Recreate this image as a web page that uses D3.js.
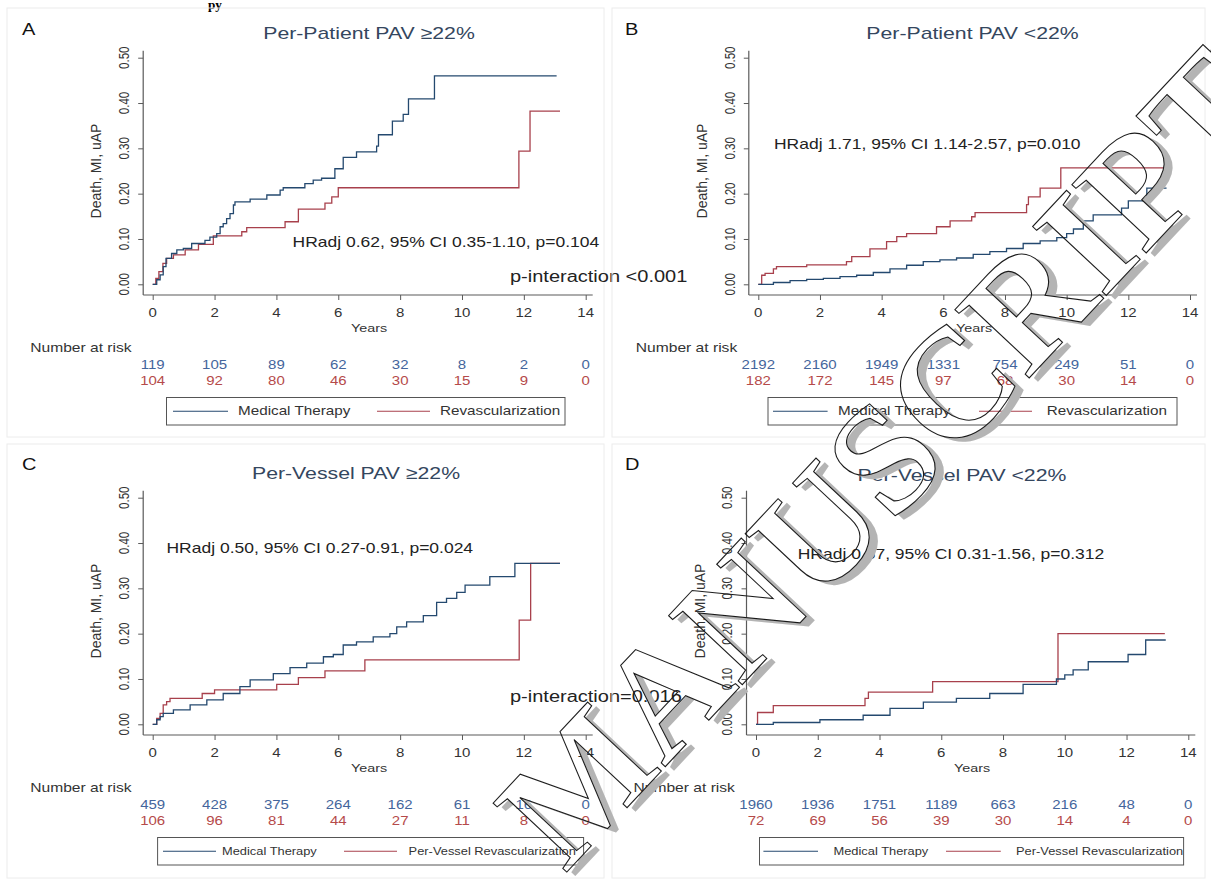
<!DOCTYPE html>
<html><head><meta charset="utf-8">
<script src="https://cdn.jsdelivr.net/npm/d3@7"></script>
<style>body{margin:0;background:#fff}svg{display:block}text{font-family:"Liberation Sans",Arial,sans-serif}</style>
</head><body>
<svg id="chart" width="1211" height="882"></svg>
<script>
// ---------------- DATA ----------------
const yearTicks = [0, 2, 4, 6, 8, 10, 12, 14];
const riskTicks = [0.00, 0.10, 0.20, 0.30, 0.40, 0.50];
const panelLetters = ["A", "B", "C", "D"];
const panelTitles = ["Per-Patient PAV \u226522%", "Per-Patient PAV <22%", "Per-Vessel PAV \u226522%", "Per-Vessel PAV <22%"];
const hrTexts = ["HRadj 0.62, 95% CI 0.35-1.10, p=0.104", "HRadj 1.71, 95% CI 1.14-2.57, p=0.010",
                 "HRadj 0.50, 95% CI 0.27-0.91, p=0.024", "HRadj 0.67, 95% CI 0.31-1.56, p=0.312"];
const interactionTexts = ["p-interaction <0.001", "p-interaction=0.016"];
const legendMed = ["Medical Therapy", "Medical Therapy", "Medical Therapy", "Medical Therapy"];
const legendRev = ["Revascularization", "Revascularization", "Per-Vessel Revascularization", "Per-Vessel Revascularization"];
const watermarkText = "MANUSCRIPT";

// Kaplan-Meier step points [years, cumulative event rate]
const medA = [[0,0],[0.13,0.010],[0.24,0.021],[0.34,0.039],[0.43,0.057],[0.61,0.068],[0.78,0.076],[0.99,0.079],[1.26,0.09],[1.69,0.097],[1.85,0.104],[2.07,0.112],[2.18,0.127],[2.28,0.134],[2.39,0.145],[2.5,0.156],[2.61,0.175],[2.66,0.182],[3.15,0.188],[3.69,0.197],[4.12,0.208],[4.22,0.213],[4.92,0.222],[5.19,0.23],[5.46,0.234],[5.89,0.255],[6.16,0.28],[6.59,0.292],[7.24,0.305],[7.30,0.33],[7.75,0.36],[8.1,0.375],[8.27,0.409],[9.11,0.46],[13.06,0.46]];
const revA = [[0,0],[0.1,0.013],[0.2,0.028],[0.33,0.046],[0.45,0.057],[0.67,0.065],[1.05,0.076],[1.48,0.088],[1.96,0.107],[2.88,0.116],[3.04,0.125],[4.28,0.138],[4.71,0.166],[5.57,0.179],[5.79,0.193],[6.0,0.213],[11.84,0.294],[12.2,0.382],[13.17,0.382]];
const medB = [[0,0],[0.49,0.004],[1.03,0.008],[1.57,0.011],[2.11,0.013],[2.65,0.017],[3.19,0.02],[3.73,0.026],[4.27,0.034],[4.81,0.042],[5.35,0.05],[5.89,0.054],[6.43,0.058],[6.97,0.066],[7.51,0.072],[8.05,0.079],[8.59,0.09],[9.14,0.096],[9.68,0.103],[10.0,0.112],[10.22,0.122],[10.54,0.14],[10.86,0.153],[11.78,0.168],[12.0,0.184],[12.6,0.212],[13.24,0.212]];
const revB = [[0,0],[0.11,0.02],[0.22,0.024],[0.49,0.034],[0.59,0.039],[1.57,0.043],[2.86,0.05],[3.03,0.061],[3.62,0.078],[4.16,0.094],[4.49,0.105],[4.81,0.112],[5.78,0.127],[6.22,0.14],[6.92,0.149],[7.03,0.158],[8.7,0.176],[8.76,0.193],[9.14,0.212],[9.81,0.257],[13.19,0.257]];
const medC = [[0,0],[0.13,0.01],[0.24,0.017],[0.34,0.024],[0.67,0.032],[1.21,0.043],[1.75,0.054],[2.28,0.068],[2.82,0.083],[3.15,0.098],[3.9,0.112],[4.44,0.125],[4.98,0.135],[5.52,0.149],[5.84,0.154],[6.16,0.175],[6.59,0.182],[7.13,0.193],[7.67,0.2],[7.89,0.215],[8.21,0.226],[8.75,0.24],[9.18,0.269],[9.5,0.278],[9.83,0.291],[10.1,0.307],[10.9,0.326],[11.71,0.355],[13.17,0.355]];
const revC = [[0,0],[0.13,0.013],[0.24,0.024],[0.34,0.043],[0.45,0.05],[0.56,0.057],[1.6,0.068],[2.0,0.076],[4.01,0.088],[4.71,0.103],[5.57,0.118],[6.86,0.142],[11.85,0.23],[12.22,0.355],[13.17,0.355]];
const medD = [[0,0],[0.56,0.004],[2.07,0.01],[3.47,0.02],[4.34,0.035],[5.42,0.049],[6.49,0.057],[7.57,0.068],[8.65,0.088],[9.73,0.1],[10.0,0.109],[10.27,0.12],[10.76,0.138],[12.05,0.154],[12.62,0.186],[13.27,0.186]];
const revD = [[0,0],[0.05,0.026],[0.56,0.041],[3.53,0.057],[3.64,0.071],[5.72,0.094],[9.78,0.2],[13.24,0.2]];

// Number at risk at yearTicks
const riskMedA = [119, 105, 89, 62, 32, 8, 2, 0];
const riskRevA = [104, 92, 80, 46, 30, 15, 9, 0];
const riskMedB = [2192, 2160, 1949, 1331, 754, 249, 51, 0];
const riskRevB = [182, 172, 145, 97, 68, 30, 14, 0];
const riskMedC = [459, 428, 375, 264, 162, 61, 16, 0];
const riskRevC = [106, 96, 81, 44, 27, 11, 8, 0];
const riskMedD = [1960, 1936, 1751, 1189, 663, 216, 48, 0];
const riskRevD = [72, 69, 56, 39, 30, 14, 4, 0];

// ---------------- STYLE / LAYOUT ----------------
const NAVY = "#24496f", MAROON = "#a8404c";
const NAVY_TXT = "#44659c", MAROON_TXT = "#b54a4a";
const TITLE_COL = "#34465e", AXIS_COL = "#5a5a5a", LABEL_COL = "#333";
const K = 1.25; // horizontal stretch of the reference picture

const panels = [
  {x0:152.7, x1:585.7, y0:284.3, y1:57.7, med:medA, rev:revA, rm:riskMedA, rr:riskRevA,
   letter:[22,30], title:[369,33], hr:[292.6,242.5], inter:[510,277],
   box:[166.5,565], legFont:12.2, leg:[173,228,238,377,430,440], frame:[7,8,604,437]},
  {x0:758.3, x1:1190, y0:284.3, y1:57.7, med:medB, rev:revB, rm:riskMedB, rr:riskRevB,
   letter:[625,30], title:[972.5,33], hr:[774,144], inter:null,
   box:[768,1177], legFont:12.2, leg:[773,827.6,838,979,1032,1046.7], frame:[612,8,1205,437]},
  {x0:152.7, x1:585.7, y0:724.3, y1:497.7, med:medC, rev:revC, rm:riskMedC, rr:riskRevC,
   letter:[22,465], title:[356,473], hr:[166.5,548], inter:[510,697],
   box:[157.6,583.6], legFont:10.3, leg:[163,216,222,344,397,408.6], frame:[7,444,604,878]},
  {x0:756, x1:1188.3, y0:724.3, y1:497.7, med:medD, rev:revD, rm:riskMedD, rr:riskRevD,
   letter:[625,465], title:[962,475], hr:[797.7,554], inter:null,
   box:[759.5,1183.6], legFont:10.3, leg:[763.4,818,833.5,946,1000.8,1016], frame:[612,444,1205,878]}
];

const svg = d3.select("#chart");
svg.append("rect").attr("width",1211).attr("height",882).attr("fill","#fff");

function txt(g, x, y, s, o) {
  o = o || {};
  let tr = `translate(${x},${y}) scale(${o.k || K},1)` + (o.rot ? ` rotate(${o.rot})` : "");
  return g.append("text").attr("transform", tr)
    .attr("text-anchor", o.anchor || "middle")
    .attr("dominant-baseline", o.base || "central")
    .attr("font-size", o.size || 12)
    .attr("fill", o.fill || LABEL_COL)
    .attr("font-weight", o.weight || "normal")
    .style("font-family", o.family || null)
    .text(s);
}

// fragment of caption above the figure
txt(svg, 208, 9, "py", {anchor:"start", size:12, weight:"bold", fill:"#000", family:"'Liberation Serif',serif", base:"alphabetic", k:1.1});

panels.forEach((p, i) => {
  const g = svg.append("g");
  g.append("rect").attr("x", p.frame[0]).attr("y", p.frame[1])
    .attr("width", p.frame[2]-p.frame[0]).attr("height", p.frame[3]-p.frame[1])
    .attr("fill", "none").attr("stroke", "#ececec").attr("stroke-width", 1);

  const x = d3.scaleLinear().domain([0, 14]).range([p.x0, p.x1]);
  const y = d3.scaleLinear().domain([0, 0.5]).range([p.y0, p.y1]);
  const axX = x(0) - 9.5, axB = y(0) + 10.7;

  // y axis
  const ya = g.append("g").attr("transform", `translate(${axX},0)`)
    .call(d3.axisLeft(y).tickValues(riskTicks).tickSize(5).tickSizeOuter(0).tickFormat(""));
  ya.select(".domain").remove();
  ya.selectAll("line").attr("stroke", AXIS_COL);
  g.append("line").attr("x1", axX).attr("x2", axX).attr("y1", y(0.5) - 7).attr("y2", axB)
    .attr("stroke", AXIS_COL).attr("stroke-width", 1.2);
  riskTicks.forEach(v => txt(g, axX - 19, y(v), d3.format(".2f")(v), {size:11.5, rot:-90}));
  txt(g, axX - 47, (y(0) + y(0.5)) / 2, "Death, MI, uAP", {size:14, rot:-90, k:1.05});

  // x axis
  const xa = g.append("g").attr("transform", `translate(0,${axB})`)
    .call(d3.axisBottom(x).tickValues(yearTicks).tickSize(5).tickSizeOuter(0).tickFormat(""));
  xa.select(".domain").remove();
  xa.selectAll("line").attr("stroke", AXIS_COL);
  g.append("line").attr("x1", axX).attr("x2", x(14) + 7).attr("y1", axB).attr("y2", axB)
    .attr("stroke", AXIS_COL).attr("stroke-width", 1.2);
  yearTicks.forEach(t => txt(g, x(t), axB + 18, String(t), {size:12}));
  txt(g, (x(0) + x(14)) / 2, axB + 33, "Years", {size:11.5});

  // curves
  const line = d3.line().x(d => x(d[0])).y(d => y(d[1])).curve(d3.curveStepAfter);
  g.append("path").datum(p.rev).attr("d", line).attr("fill", "none").attr("stroke", MAROON).attr("stroke-width", 1.3);
  g.append("path").datum(p.med).attr("d", line).attr("fill", "none").attr("stroke", NAVY).attr("stroke-width", 1.3);

  // texts
  txt(g, p.letter[0], p.letter[1], panelLetters[i], {anchor:"start", size:16, fill:"#111"});
  txt(g, p.title[0], p.title[1], panelTitles[i], {size:17, fill:TITLE_COL});
  txt(g, p.hr[0], p.hr[1], hrTexts[i], {anchor:"start", size:14, fill:"#222"});
  if (p.inter) txt(g, p.inter[0], p.inter[1], interactionTexts[i === 0 ? 0 : 1], {anchor:"start", size:16, fill:"#222"});

  // number at risk
  txt(g, axX - 113, axB + 53, "Number at risk", {anchor:"start", size:12.5});
  yearTicks.forEach((t, j) => {
    txt(g, x(t), axB + 70, String(p.rm[j]), {size:12, fill:NAVY_TXT});
    txt(g, x(t), axB + 86, String(p.rr[j]), {size:12, fill:MAROON_TXT});
  });

  // legend
  const bt = axB + 102.5, bh = 27.5, cy = bt + bh / 2;
  g.append("rect").attr("x", p.box[0]).attr("y", bt).attr("width", p.box[1] - p.box[0]).attr("height", bh)
    .attr("fill", "#fff").attr("stroke", "#555").attr("stroke-width", 1);
  g.append("line").attr("x1", p.leg[0]).attr("x2", p.leg[1]).attr("y1", cy).attr("y2", cy).attr("stroke", NAVY).attr("stroke-width", 1.2);
  txt(g, p.leg[2], cy, legendMed[i], {anchor:"start", size:p.legFont});
  g.append("line").attr("x1", p.leg[3]).attr("x2", p.leg[4]).attr("y1", cy).attr("y2", cy).attr("stroke", MAROON).attr("stroke-width", 1.2);
  txt(g, p.leg[5], cy, legendRev[i], {anchor:"start", size:p.legFont});
});

// watermark: outlined letters with a grey offset band, transparent inside
const WM_SIZE = 154;
const WM_FONT = "'Liberation Serif',serif";
const wm = svg.append("g").attr("transform", "translate(565,874) rotate(-46.9)");
const meas = wm.append("text").attr("font-size", WM_SIZE).attr("font-weight", "bold")
  .style("font-family", WM_FONT).text(watermarkText);
const offs = watermarkText.split("").map((c, i) => i === 0 ? 0 : meas.node().getSubStringLength(0, i));
meas.remove();
const letters = watermarkText.split("").map((c, i) => ({c, dx: offs[i]}));
const addLetters = (sel, dx, dy) => sel.selectAll(null).data(letters).enter().append("text")
  .attr("x", d => d.dx + dx).attr("y", dy).attr("font-size", WM_SIZE).attr("font-weight", "bold")
  .style("font-family", WM_FONT).text(d => d.c);
const mask = svg.append("defs").append("mask").attr("id", "wmBand")
  .attr("maskUnits", "userSpaceOnUse").attr("x", -300).attr("y", -400).attr("width", 1800).attr("height", 800);
mask.append("rect").attr("x", -300).attr("y", -400).attr("width", 1800).attr("height", 800).attr("fill", "#000");
addLetters(mask, 3, 9).attr("fill", "#fff");
addLetters(mask, 0, 0).attr("fill", "#000");
wm.append("rect").attr("x", -300).attr("y", -400).attr("width", 1800).attr("height", 800)
  .attr("fill", "#b4b4b4").attr("mask", "url(#wmBand)");
addLetters(wm, 0, 0).attr("fill", "none").attr("stroke", "#1a1a1a").attr("stroke-width", 1.1);
</script>
</body></html>
